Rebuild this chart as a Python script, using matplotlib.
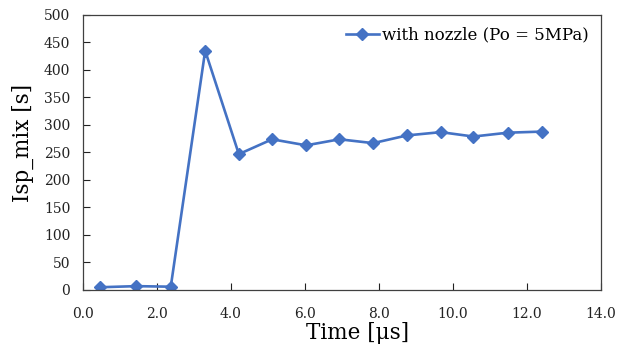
import matplotlib
matplotlib.use("Agg")
import matplotlib.pyplot as plt

# Isp_mix readout, with nozzle, Po = 5 MPa
time_us = [0.47, 1.44, 2.38, 3.31, 4.22, 5.12, 6.04, 6.94, 7.85, 8.76, 9.68, 10.56, 11.49, 12.41]
isp_mix = [5, 7, 6, 435, 247, 274, 263, 274, 267, 281, 287, 279, 286, 288]
series_label = "with nozzle (Po = 5MPa)"
xticks = [0, 2, 4, 6, 8, 10, 12, 14]
yticks = [0, 50, 100, 150, 200, 250, 300, 350, 400, 450, 500]

plt.rcParams["font.family"] = ["DejaVu Serif"]

fig = plt.figure(figsize=(6.29, 3.51), dpi=100)
ax = fig.add_axes([0.1315, 0.1738, 0.8235, 0.7835])

ax.plot(time_us, isp_mix, color="#4472C4", lw=1.9, marker="D", ms=6.5,
        label=series_label)

ax.set_xlim(0, 14)
ax.set_ylim(0, 500)
ax.set_xticks(xticks)
ax.set_xticklabels([f"{t:.1f}" for t in xticks])
ax.set_yticks(yticks)
ax.tick_params(direction="in", length=5, width=0.8, labelsize=10, colors="#222222")
ax.tick_params(axis="y", pad=9)
ax.tick_params(axis="x", pad=12)
for s in ax.spines.values():
    s.set_color("#404040")
    s.set_linewidth(0.9)

ax.set_xlabel("Time [μs]", fontsize=15.5)
ax.xaxis.set_label_coords(0.5305, -0.115)
ax.set_ylabel("Isp_mix [s]", fontsize=15.5)
ax.yaxis.set_label_coords(-0.094, 0.536)
ax.legend(loc="upper right", frameon=False, fontsize=12, handlelength=2.0,
          handletextpad=0.2, borderaxespad=0.3)

fig.savefig("out.png", dpi=100)
